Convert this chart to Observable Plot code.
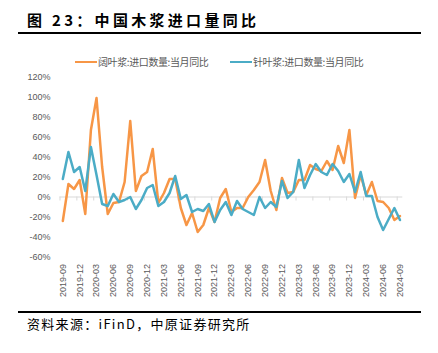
<!DOCTYPE html>
<html>
<head>
<meta charset="utf-8">
<script src="https://cdn.jsdelivr.net/npm/d3@7"></script>
<script src="https://cdn.jsdelivr.net/npm/@observablehq/plot@0.6"></script>
<style>
  html, body { margin: 0; padding: 0; background: #fff; }
  #wrap { position: relative; width: 438px; height: 353px; overflow: hidden; background: #fff; font-family: "Liberation Sans", Arial, sans-serif; }
  #title { position: absolute; left: 27px; top: 12px; font: bold 15px/15px "Noto Sans CJK SC", sans-serif; letter-spacing: 3.3px; color: #000; white-space: nowrap; }
  .rule { position: absolute; left: 18px; width: 403px; height: 2px; background: #000; }
  .leg { position: absolute; top: 56px; height: 12px; display: flex; align-items: center; font: 10px/12px "Noto Sans CJK SC", sans-serif; letter-spacing: -0.4px; color: #595959; white-space: nowrap; }
  .leg span.sw { display: inline-block; width: 22px; height: 2.5px; margin-right: 1px; }
  #chart { position: absolute; left: 0; top: 70px; }
  #source { position: absolute; left: 27px; top: 317px; font: 13px/14px "Noto Sans CJK SC", sans-serif; letter-spacing: 1.3px; color: #000; white-space: nowrap; }
</style>
</head>
<body>
<div id="wrap">
  <div id="title">图 23：中国木浆进口量同比</div>
  <div class="rule" style="top:32px"></div>
  <div id="legend"></div>
  <div id="chart"></div>
  <div class="rule" style="top:311px"></div>
  <div id="source">资料来源：iFinD，中原证券研究所</div>
</div>
<script>
const months = [
  "2019-09","2019-10","2019-11","2019-12","2020-01","2020-02","2020-03","2020-04","2020-05","2020-06","2020-07","2020-08",
  "2020-09","2020-10","2020-11","2020-12","2021-01","2021-02","2021-03","2021-04","2021-05","2021-06","2021-07","2021-08",
  "2021-09","2021-10","2021-11","2021-12","2022-01","2022-02","2022-03","2022-04","2022-05","2022-06","2022-07","2022-08",
  "2022-09","2022-10","2022-11","2022-12","2023-01","2023-02","2023-03","2023-04","2023-05","2023-06","2023-07","2023-08",
  "2023-09","2023-10","2023-11","2023-12","2024-01","2024-02","2024-03","2024-04","2024-05","2024-06","2024-07","2024-08",
  "2024-09"
];
const hardwood = [
  -24, 13, 8, 17, -17, 67, 99, 30, -17, -6, -5, 15,
  76, 6, 21, 25, 48, -6, 4, 18, 18, -11, -28, -16,
  -35, -28, -11, -25, -1, 8, -15, -11, -11, 0, 7, 15,
  37, 6, -13, 19, 4, 5, 17, 17, 32, 28, 26, 36,
  27, 51, 34, 67, -1, 22, 2, 15, -4, -5, -11, -23,
  -19
];
const softwood = [
  18, 45, 25, 30, 6, 50, 22, -7, -9, 3, -5, -3,
  0, -12, -3, 9, 12, -9, -5, 4, 21, -2, 2, -15,
  -12, -14, -7, -25, -13, -5, -18, -4, -12, -15, -18, 0,
  -11, -5, -10, 16, -1, 5, 37, 9, 22, 33, 25, 22,
  33, 26, 15, 23, 5, 25, 1, 1, -20, -33, -22, -11,
  -23
];
const seriesNames = ["阔叶浆:进口数量:当月同比", "针叶浆:进口数量:当月同比"];
const seriesColors = ["#F79646", "#4BACC6"];
const tickLabels = ["2019-09","2019-12","2020-03","2020-06","2020-09","2020-12","2021-03","2021-06","2021-09","2021-12",
  "2022-03","2022-06","2022-09","2022-12","2023-03","2023-06","2023-09","2023-12","2024-03","2024-06","2024-09"];
const yTicks = [-60, -40, -20, 0, 20, 40, 60, 80, 100, 120];

// legend
const legend = document.getElementById("legend");
const legLeft = [75, 230];
seriesNames.forEach((name, k) => {
  const d = document.createElement("div");
  d.className = "leg";
  d.style.left = legLeft[k] + "px";
  d.innerHTML = `<span class="sw" style="background:${seriesColors[k]}"></span>${name}`;
  legend.appendChild(d);
});

const rows = [];
months.forEach((m, i) => {
  rows.push({i, month: m, value: hardwood[i], series: seriesNames[0]});
});
months.forEach((m, i) => {
  rows.push({i, month: m, value: softwood[i], series: seriesNames[1]});
});
const tickIdx = tickLabels.map(t => months.indexOf(t));
const boundaries = tickIdx.map(i => i - 0.5);

const chart = Plot.plot({
  width: 438,
  height: 235,
  marginLeft: 59.5,
  marginRight: 35.7,
  marginTop: 6.5,
  marginBottom: 48.5,
  style: {fontFamily: "'Liberation Sans', Arial, sans-serif", fontSize: "9px", color: "#595959", background: "transparent"},
  x: {type: "linear", domain: [-0.5, months.length - 0.5]},
  y: {domain: [-60, 120]},
  color: {domain: seriesNames, range: seriesColors},
  marks: [
    Plot.ruleY([0], {stroke: "#D9D9D9", strokeWidth: 1}),
    Plot.ruleX(boundaries, {x: d => d, y1: 0, y2: -4, stroke: "#D9D9D9", strokeWidth: 1}),
    Plot.axisY(yTicks, {tickSize: 0, tickPadding: 9.5, tickFormat: d => d + "%", label: null}),
    Plot.axisX(tickIdx, {tickSize: 0, tickPadding: 7, tickRotate: -90, tickFormat: i => months[i], label: null}),
    Plot.line(rows, {x: "i", y: "value", z: "series", stroke: "series", strokeWidth: 2.5, strokeLinejoin: "round", strokeLinecap: "round"})
  ]
});
document.getElementById("chart").appendChild(chart);
</script>
</body>
</html>
